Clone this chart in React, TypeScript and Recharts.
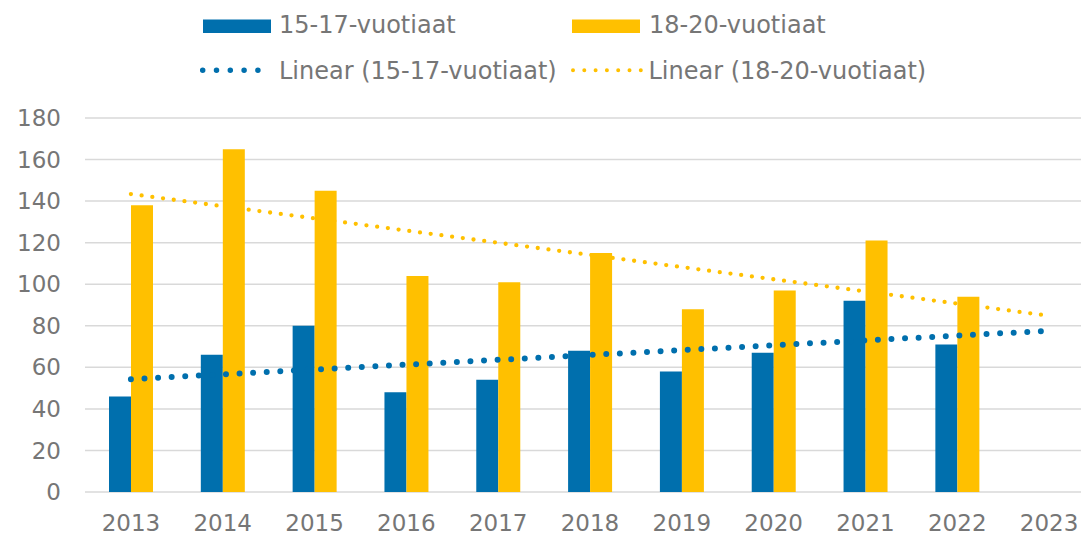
import React from "react";
import {
  ComposedChart,
  Bar,
  Line,
  XAxis,
  YAxis,
  CartesianGrid,
} from "recharts";

// years on the category axis (2023 only carries the trend end point)
const years = ["2013", "2014", "2015", "2016", "2017", "2018", "2019", "2020", "2021", "2022", "2023"];

const age15to17 = [46, 66, 80, 48, 54, 68, 58, 67, 92, 71, null];
const age18to20 = [138, 165, 145, 104, 101, 115, 88, 97, 121, 94, null];

// linear trend lines, end points
const trend15to17 = [54.3, null, null, null, null, null, null, null, null, null, 77.6];
const trend18to20 = [143.4, null, null, null, null, null, null, null, null, null, 84.8];

const yTicks = [0, 20, 40, 60, 80, 100, 120, 140, 160, 180];

const BLUE = "#006fad";
const YELLOW = "#ffc000";
const TEXT = "#767676";
const FONT = "'DejaVu Sans', Verdana, sans-serif";

const data = years.map((year, i) => ({
  year,
  a: age15to17[i],
  b: age18to20[i],
  ta: trend15to17[i],
  tb: trend18to20[i],
}));

function ChartLegend() {
  const textStyle = { fontFamily: FONT, fontSize: 24, fill: TEXT };
  return (
    <svg width={1081} height={100} style={{ position: "absolute", left: 0, top: 0 }}>
      <rect x={203} y={19.5} width={68} height={13.5} fill={BLUE} />
      <text x={279} y={33.3} {...textStyle}>15-17-vuotiaat</text>
      <rect x={572} y={19.5} width={68} height={13.5} fill={YELLOW} />
      <text x={649} y={33.3} {...textStyle}>18-20-vuotiaat</text>

      <line x1={202.7} y1={70.3} x2={259} y2={70.3} stroke={BLUE} strokeWidth={5.5}
        strokeLinecap="round" strokeDasharray="0 13.8" />
      <text x={279} y={79} {...textStyle}>Linear (15-17-vuotiaat)</text>
      <line x1={573} y1={70.3} x2={641} y2={70.3} stroke={YELLOW} strokeWidth={4}
        strokeLinecap="round" strokeDasharray="0 11.3" />
      <text x={648.5} y={79} {...textStyle}>Linear (18-20-vuotiaat)</text>
    </svg>
  );
}

export default function App() {
  const tick = { fill: TEXT, fontSize: 23, fontFamily: FONT };
  return (
    <div
      style={{
        position: "fixed",
        left: 0,
        top: 0,
        width: 1081,
        height: 535,
        overflow: "hidden",
        background: "#ffffff",
      }}
    >
      <ComposedChart
        width={1100}
        height={535}
        data={data}
        margin={{ top: 118, right: 5, bottom: 0, left: 0 }}
        barGap={0}
        style={{ fontFamily: FONT }}
      >
        <CartesianGrid vertical={false} stroke="#d9d9d9" strokeWidth={1.5} />
        <XAxis
          dataKey="year"
          axisLine={false}
          tickLine={false}
          tickSize={0}
          tickMargin={23}
          height={43}
          tick={tick}
          interval={0}
        />
        <YAxis
          domain={[0, 180]}
          ticks={yTicks}
          axisLine={false}
          tickLine={false}
          tickSize={0}
          tickMargin={24}
          width={85}
          tick={tick}
          interval={0}
        />
        <Bar dataKey="a" fill={BLUE} barSize={22} isAnimationActive={false} />
        <Bar dataKey="b" fill={YELLOW} barSize={22} isAnimationActive={false} />
        <Line
          dataKey="ta"
          stroke={BLUE}
          strokeWidth={6}
          strokeLinecap="round"
          strokeDasharray="0 13.6"
          dot={false}
          activeDot={false}
          connectNulls
          isAnimationActive={false}
        />
        <Line
          dataKey="tb"
          stroke={YELLOW}
          strokeWidth={4.3}
          strokeLinecap="round"
          strokeDasharray="0 10.8"
          dot={false}
          activeDot={false}
          connectNulls
          isAnimationActive={false}
        />
      </ComposedChart>
      <ChartLegend />
    </div>
  );
}
